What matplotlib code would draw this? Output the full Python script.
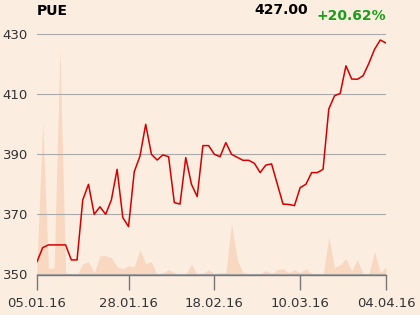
import matplotlib
matplotlib.use("Agg")
import matplotlib.pyplot as plt
import numpy as np

ticker = "PUE"
last_price = "427.00"
change = "+20.62%"

prices = [354.1, 358.8, 359.7, 359.7, 359.7, 359.7, 354.7, 354.7, 374.7, 379.9,
          369.9, 372.4, 369.9, 374.7, 384.9, 368.8, 365.8, 384.1, 389.3, 399.9,
          389.9, 388.0, 389.7, 389.1, 373.8, 373.3, 388.8, 379.9, 375.8, 392.8,
          392.8, 389.9, 389.1, 393.8, 389.9, 388.9, 387.9, 387.9, 386.9, 383.8,
          386.3, 386.7, 380.0, 373.3, 373.2, 372.8, 378.8, 379.9, 383.8, 383.8,
          384.9, 405.0, 409.4, 410.2, 419.4, 415.0, 414.9, 416.1, 420.2, 424.9,
          428.0, 427.0]

volumes = [12, 152, 6, 7, 226, 2, 0, 0, 11, 13,
           2, 19, 19, 17, 8, 6, 9, 8, 25, 11,
           13, 0, 2, 5, 2, 0, 0, 11, 0, 1,
           5, 1, 2, 2, 51, 15, 2, 1, 1, 1,
           4, 1, 5, 6, 2, 5, 2, 6, 1, 0,
           0, 38, 7, 10, 16, 4, 15, 1, 1, 23,
           2, 8]

tick_labels = ["05.01.16", "28.01.16", "18.02.16", "10.03.16", "04.04.16"]
tick_index = [0, 16, 31, 46, 61]
y_ticks = [350, 370, 390, 410, 430]

bg = "#fcede1"
fig = plt.figure(figsize=(4.2, 3.15), dpi=100, facecolor=bg)

# volume area (background layer)
axv = fig.add_axes([37/420, 1-275/315, 349/420, 253/315], zorder=0)
axv.set_facecolor(bg)
x = np.arange(len(prices))
axv.fill_between(x, 0, volumes, color="#f9d8c1", linewidth=0)
axv.set_xlim(0, len(prices) - 1)
axv.set_ylim(-0.3, 252.7)
axv.axis("off")

# price axes on top
ax = fig.add_axes([37/420, 1-275/315, 349/420, 253/315], zorder=1)
ax.patch.set_visible(False)
ax.plot(x, prices, color="#d40000", linewidth=1.1, zorder=3)
ax.set_xlim(0, len(prices) - 1)
ax.set_ylim(349.67, 434)
ax.set_yticks(y_ticks)
ax.set_yticklabels([str(v) for v in y_ticks])
ax.set_xticks(tick_index)
ax.set_xticklabels(tick_labels)
ax.grid(axis="y", color="#aaaaaa", linewidth=0.8)
ax.set_axisbelow(True)
for s in ["top", "right", "left"]:
    ax.spines[s].set_visible(False)
ax.spines["bottom"].set_color("#777777")
ax.spines["bottom"].set_linewidth(1.0)
ax.tick_params(axis="y", length=0, pad=6.5, labelsize=9.5, labelcolor="#333333")
ax.tick_params(axis="x", length=10.5, width=1.0, color="#777777", pad=5,
               labelsize=9.5, labelcolor="#333333")

fig.text(37/420, 1-11/315, ticker, fontsize=10, fontweight="bold", color="#000000",
         ha="left", va="center")
fig.text(308/420, 1-10/315, last_price, fontsize=10, fontweight="bold", color="#000000",
         ha="right", va="center")
fig.text(386/420, 1-16/315, change, fontsize=10, fontweight="bold", color="#1a9e1a",
         ha="right", va="center")

fig.savefig("out.png", dpi=100, facecolor=bg)
